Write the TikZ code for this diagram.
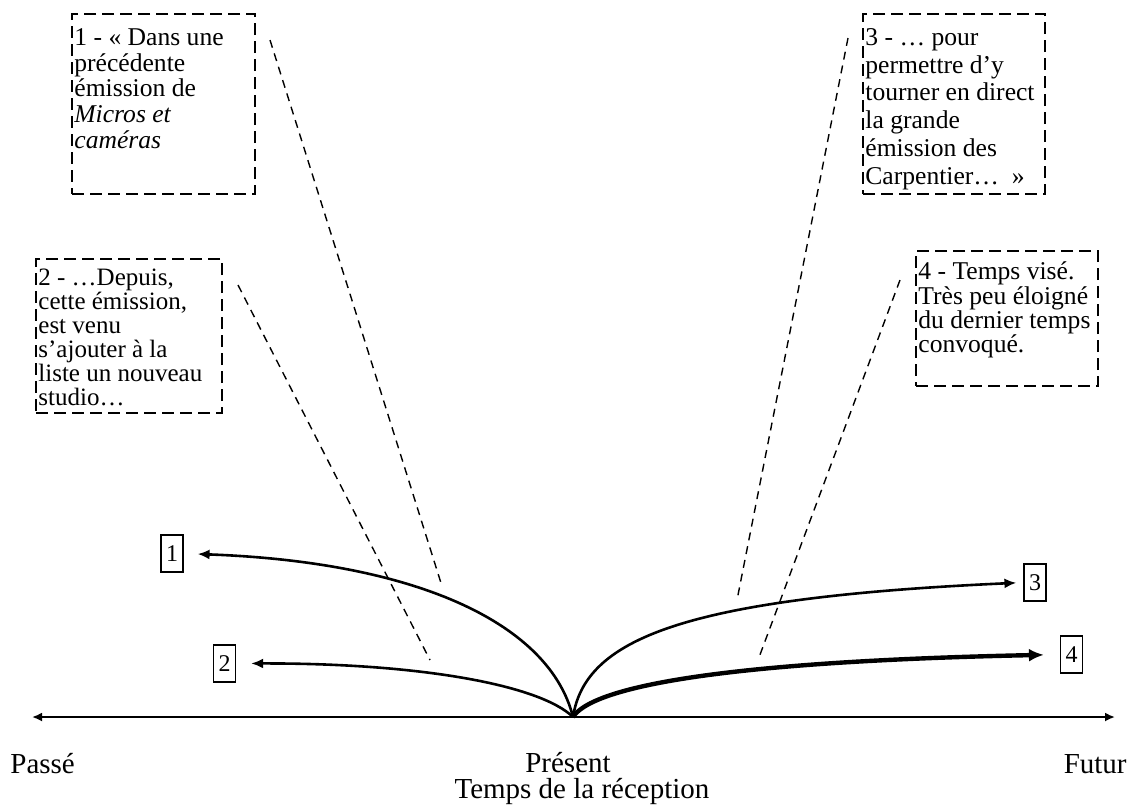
\documentclass[tikz,border=0pt]{standalone}
\usepackage{fontspec}
\setmainfont{Liberation Serif}
\usepackage{tikz}
\usetikzlibrary{arrows.meta}
\usepackage{xcolor}

\begin{document}
\begin{tikzpicture}
[
    x=0.5pt,y=-0.5pt,
    frame/.style={rectangle,draw=black,dash pattern=on 6pt off 3pt,line width=1pt,anchor=north west,inner sep=0pt},
    note/.style={rectangle,anchor=north west,align=left,inner xsep=1.5pt,inner ysep=7.5pt,font=\fontsize{12.8}{12.9}\selectfont},
    num/.style={rectangle,draw=black,line width=0.6pt,minimum width=11pt,minimum height=18.5pt,inner sep=0pt,font=\fontsize{12}{12}\selectfont},
    leader/.style={draw=black,dash pattern=on 4pt off 3pt,line width=0.7pt},
    curvearrow/.style={draw=black,line width=1.3pt,-{Latex[length=6pt,width=5pt]}},
    bigarrow/.style={curvearrow,line width=2.2pt,-{Latex[length=7.5pt,width=6.5pt]}},
    axislabel/.style={inner sep=0pt,font=\fontsize{14.5}{16}\selectfont}
]
\useasboundingbox (0,0) rectangle (1134,811);

% les encadres
\node[frame,minimum width=91.5pt,minimum height=90pt] (box1) at (71,13) {};
\node[note] (txt1) at (box1.north west) {1 - « Dans une\\précédente\\émission de\\\textit{Micros et}\\\textit{caméras}};

\node[frame,minimum width=93pt,minimum height=77pt] (box2) at (35,258) {};
\node[note,inner ysep=5.5pt,font=\fontsize{12.5}{12}\selectfont] (txt2) at (box2.north west) {2 - …Depuis,\\cette émission,\\est venu\\s’ajouter à la\\liste un nouveau\\studio…};

\node[frame,minimum width=91pt,minimum height=90pt] (box3) at (862,13) {};
\node[note,font=\fontsize{12.8}{13.9}\selectfont] (txt3) at (box3.north west) {3 - … pour\\permettre d’y\\tourner en direct\\la grande\\émission des\\Carpentier…~~»};

\node[frame,minimum width=91pt,minimum height=67.5pt] (box4) at (915,250) {};
\node[note,inner ysep=5.7pt,font=\fontsize{12.8}{12.2}\selectfont] (txt4) at (box4.north west) {4 - Temps visé.\\Très peu éloigné\\du dernier temps\\convoqué.};

% les reperes
\node[num] (n1) at (172,553.5) {1};
\node[num] (n2) at (224.5,663.5) {2};
\node[num] (n3) at (1035,582.5) {3};
\node[num] (n4) at (1071.5,654.5) {4};

% axe du temps
\coordinate (past) at (32,717);
\coordinate (present) at (573,717);
\coordinate (future) at (1115,717);
\draw[line width=1pt,{Latex[length=5pt,width=4.5pt]}-{Latex[length=5pt,width=4.5pt]}] (past) -- (future);

\draw[curvearrow,shorten >=7pt] (present) .. controls (550,625) and (420,562) .. (n1.east);
\draw[curvearrow,shorten >=7.5pt] (present) .. controls (540,685) and (420,663) .. (n2.east);
\draw[curvearrow,shorten >=3.5pt] (present) .. controls (585,640) and (680,598) .. (n3.west);
\draw[bigarrow,shorten >=8pt] (present) .. controls (590,690) and (700,662) .. (n4.west);

% les renvois
\coordinate (l1a) at (270,40);
\coordinate (l1b) at (441,583);
\coordinate (l2a) at (238,285);
\coordinate (l2b) at (430,660);
\coordinate (l3a) at (848,38);
\coordinate (l3b) at (737,600);
\coordinate (l4a) at (900,280);
\coordinate (l4b) at (758,660);
\draw[leader] (l1a) -- (l1b);
\draw[leader] (l2a) -- (l2b);
\draw[leader] (l3a) -- (l3b);
\draw[leader] (l4a) -- (l4b);

\node[axislabel,anchor=base west] (pastlabel) at (10,773) {Passé};
\node[axislabel,anchor=base] (presentlabel) at (568,772) {Présent};
\node[axislabel,anchor=base east] (futurelabel) at (1127,773) {Futur};
\node[axislabel,anchor=base] (receplabel) at (582,798) {Temps de la réception};
\end{tikzpicture}
\end{document}
